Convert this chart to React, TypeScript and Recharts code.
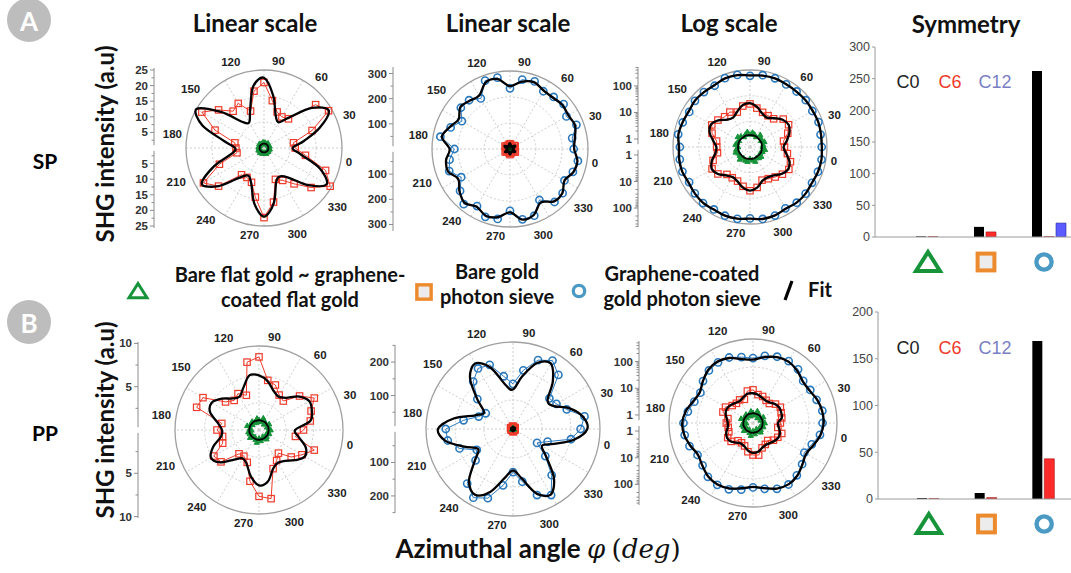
import React from 'react';
import {
  RadarChart,
  Radar,
  PolarGrid,
  PolarAngleAxis,
  PolarRadiusAxis,
  ComposedChart,
  Line,
  YAxis,
  XAxis,
  BarChart,
  Bar
} from 'recharts';

// azimuthal angles of the measured points (deg)
const ANGLES = [0, 10, 20, 30, 40, 50, 60, 70, 80, 90, 100, 110, 120, 130, 140, 150, 160, 170,
  180, 190, 200, 210, 220, 230, 240, 250, 260, 270, 280, 290, 300, 310, 320, 330, 340, 350];
const SPOKES = [0, 30, 60, 90, 120, 150, 180, 210, 240, 270, 300, 330];

// SP polarisation
const SP_TRI = [1.6, 1.9, 1.5, 1.7, 2.0, 1.4, 1.6, 1.8, 1.5, 1.9, 1.6, 1.4, 1.7, 2.0, 1.5, 1.6, 1.8, 1.4,
  1.7, 1.9, 1.5, 1.6, 2.0, 1.5, 1.7, 1.8, 1.4, 1.6, 1.9, 1.5, 1.7, 1.8, 1.4, 1.6, 1.9, 1.5];
const SP_SQ = [9.6, 16.4, 23.9, 21.6, 12.2, 11.5, 12.3, 15.4, 21.0, 18.5, 12.6, 16.5, 15.4, 19.0, 23.0, 16.7, 9.5, 9.0,
  8.8, 15.2, 22.4, 19.0, 11.2, 10.9, 11.7, 16.0, 22.3, 17.6, 10.7, 12.0, 15.0, 19.7, 24.5, 21.0, 13.5, 10.0];
const SP_CIRC = [251, 281, 259, 278, 270, 265, 286, 280, 241, 288, 289, 232, 253, 255, 221, 251, 281, 221,
  244, 257, 224, 259, 286, 262, 287, 282, 246, 284, 282, 234, 275, 273, 250, 266, 274, 253];
const SP_FIT_TRI = [1.42, 1.43, 1.41, 1.40, 1.42, 1.44, 1.43, 1.41, 1.40, 1.42, 1.43, 1.41, 1.40, 1.42, 1.44, 1.43, 1.41, 1.40,
  1.42, 1.43, 1.41, 1.40, 1.42, 1.44, 1.43, 1.41, 1.40, 1.42, 1.43, 1.41, 1.40, 1.42, 1.44, 1.43, 1.41, 1.40];
const SP_FIT_SQ = [13, 19, 24, 20, 13, 9.5, 11, 17, 22.5, 20, 13, 9.5, 11, 18, 25, 21, 13, 9.3,
  10.5, 17, 23, 19, 12.5, 10.2, 12, 18, 22, 18, 11.5, 10.5, 12.5, 18.5, 23.2, 19, 12, 9.2];
const SP_FIT_CIRC = [262, 275, 268, 272, 266, 268, 282, 272, 250, 282, 282, 245, 250, 258, 236, 255, 275, 240,
  258, 262, 238, 262, 280, 265, 282, 275, 252, 285, 278, 245, 272, 272, 250, 268, 272, 255];

// PP polarisation
const PP_TRI = [1.2, 1.0, 1.4, 1.1, 0.9, 1.3, 1.5, 1.0, 1.2, 1.4, 0.95, 1.1, 1.3, 1.0, 1.2, 1.5, 1.1, 0.9,
  1.3, 1.2, 1.0, 1.4, 1.1, 0.95, 1.2, 1.5, 1.0, 1.3, 1.1, 0.9, 1.4, 1.2, 1.0, 1.3, 1.1, 1.4];
const PP_SQ = [6.2, 6.6, 7.6, 6.3, 4.5, 4.8, 5.7, 6.0, 8.7, 8.2, 4.4, 5.0, 4.6, 5.2, 7.7, 7.9, 4.5, 5.0,
  4.4, 4.6, 6.2, 5.9, 3.7, 3.6, 4.1, 6.2, 7.9, 8.3, 4.9, 4.2, 3.6, 5.0, 5.9, 7.0, 4.4, 5.3];
const PP_CIRC = [217, 171, 150, 142, 211, 236, 219, 178, 135, 160, 204, 209, 185, 139, 94, 109, 150, 201,
  198, 170, 125, 146, 213, 237, 220, 171, 129, 160, 210, 228, 180, 126, 83, 110, 176, 202];
const PP_FIT_TRI = [1.15, 1.16, 1.14, 1.15, 1.17, 1.16, 1.14, 1.15, 1.16, 1.14, 1.15, 1.17, 1.16, 1.14, 1.15, 1.16, 1.14, 1.15,
  1.17, 1.16, 1.14, 1.15, 1.16, 1.14, 1.15, 1.17, 1.16, 1.14, 1.15, 1.16, 1.14, 1.15, 1.17, 1.16, 1.14, 1.15];
const PP_FIT_SQ = [6.2, 6.7, 6.9, 6.2, 5.0, 4.6, 5.0, 5.9, 6.5, 6.6, 5.4, 4.6, 4.9, 5.8, 6.5, 6.2, 5.0, 4.4,
  4.6, 5.8, 6.6, 6.0, 4.6, 3.9, 4.3, 5.6, 6.6, 6.2, 4.9, 4.5, 4.8, 5.6, 6.3, 5.9, 4.8, 4.3];
const PP_FIT_CIRC = [212, 180, 138, 135, 185, 226, 210, 160, 118, 135, 195, 226, 200, 140, 100, 120, 180, 224,
  205, 155, 120, 150, 205, 227, 200, 150, 124, 150, 205, 226, 190, 130, 100, 130, 185, 222];

// symmetry coefficients (C0, C6, C12) for triangle / square / circle samples
const SYM_KEYS = ['tri', 'sq', 'circ'];
const SP_C0 = [1, 16, 262];
const SP_C6 = [0.3, 8, 0.4];
const SP_C12 = [0, 0, 22];
const PP_C0 = [1, 6.4, 169];
const PP_C6 = [0.3, 1.5, 43];
const PP_C12 = [0, 0, 0];

const GREEN = '#17933a';
const ORANGE = '#ec8a2e';
const SKY = '#4a9ac4';
const RED = '#ee3b2c';
const BLUE = '#2b79bd';
const AX = '#8c8c8c';
const LAB = 'Liberation Sans, Arial, sans-serif';
const TXT = 'Lato, sans-serif';

const rows = (tri: number[], sq: number[], circ: number[], ftri: number[], fsq: number[], fcirc: number[]) =>
  ANGLES.map((a, i) => ({ angle: a, tri: tri[i], sq: sq[i], circ: circ[i], ftri: ftri[i], fsq: fsq[i], fcirc: fcirc[i] }));

const SP_ROWS = rows(SP_TRI, SP_SQ, SP_CIRC, SP_FIT_TRI, SP_FIT_SQ, SP_FIT_CIRC);
const PP_ROWS = rows(PP_TRI, PP_SQ, PP_CIRC, PP_FIT_TRI, PP_FIT_SQ, PP_FIT_CIRC);

// closed smooth curve through the radar points (for the fits)
const SmoothShape = (p: any) => {
  const pts = (p.points || []).filter((q: any) => Number.isFinite(q.x) && Number.isFinite(q.y));
  const n = pts.length;
  if (n < 3) return <g />;
  let d = `M${pts[0].x},${pts[0].y}`;
  for (let i = 0; i < n; i++) {
    const p0 = pts[(i - 1 + n) % n];
    const p1 = pts[i];
    const p2 = pts[(i + 1) % n];
    const p3 = pts[(i + 2) % n];
    const c1x = p1.x + (p2.x - p0.x) / 6;
    const c1y = p1.y + (p2.y - p0.y) / 6;
    const c2x = p2.x - (p3.x - p1.x) / 6;
    const c2y = p2.y - (p3.y - p1.y) / 6;
    d += ` C${c1x},${c1y} ${c2x},${c2y} ${p2.x},${p2.y}`;
  }
  return <path d={d + 'Z'} fill="none" stroke={p.stroke} strokeWidth={p.strokeWidth} strokeLinejoin="round" />;
};

const squareDot = (p: any) => (
  <rect key={`s${p.index}`} x={p.cx - 3.2} y={p.cy - 3.2} width={6.4} height={6.4} fill="none" stroke={RED} strokeWidth={1.2} />
);
const circleDot = (p: any) => (
  <circle key={`c${p.index}`} cx={p.cx} cy={p.cy} r={3.6} fill="none" stroke={BLUE} strokeWidth={1.6} />
);
const triDot = (p: any) => (
  <polygon key={`t${p.index}`} points={`${p.cx},${p.cy - 2.8} ${p.cx + 2.6},${p.cy + 1.9} ${p.cx - 2.6},${p.cy + 1.9}`}
    fill={GREEN} stroke={GREEN} strokeWidth={1} />
);

const angleTick = (p: any) => {
  const v = Number(p.payload?.value);
  if (v % 30 !== 0) return <g />;
  const a = (v * Math.PI) / 180;
  const label = String(v);
  const w = label.length * 6.6;
  const h = 11;
  const off = (Math.abs(Math.cos(a)) * w) / 2 + (Math.abs(Math.sin(a)) * h) / 2;
  return (
    <text x={p.x + off * Math.cos(a)} y={p.y - off * Math.sin(a)} textAnchor="middle" dominantBaseline="central"
      fontSize={11.5} fontWeight="bold" fill="#222" fontFamily={LAB}>
      {label}
    </text>
  );
};

const MARK_DOT: any = { circ: circleDot, sq: squareDot, tri: triDot };
const MARK_COLOR: any = { circ: BLUE, sq: RED, tri: GREEN };

function PolarPlot({ cx, cy, r, domain, log, grid, data, marks }: any) {
  const pad = 36;
  const size = 2 * (r + pad);
  const common = {
    width: size,
    height: size,
    data,
    outerRadius: r,
    startAngle: 0,
    endAngle: 360,
    margin: { top: 0, right: 0, bottom: 0, left: 0 }
  };
  const radius = (
    <PolarRadiusAxis scale={log ? 'log' : 'linear'} domain={domain} allowDataOverflow ticks={grid}
      tick={false} axisLine={false} tickLine={false} />
  );
  return (
    <div style={{ position: 'absolute', left: cx - size / 2, top: cy - size / 2, width: size, height: size }}>
      <RadarChart {...common}>
        <PolarGrid gridType="circle" polarAngles={SPOKES} stroke="#cfcfcf" strokeDasharray="2 2" />
        <PolarAngleAxis dataKey="angle" axisLineType="circle" axisLine={{ stroke: '#a0a0a0', strokeWidth: 1.3 }}
          tickLine={false} tickSize={5} tick={angleTick} />
        {radius}
        {marks.map((k: string) => (
          <Radar key={k} dataKey={k} stroke={MARK_COLOR[k]} strokeWidth={1} fill="none" fillOpacity={0}
            dot={MARK_DOT[k]} isAnimationActive={false} />
        ))}
      </RadarChart>
      {/* fits drawn in an overlay with identical geometry so they sit above the markers */}
      <div style={{ position: 'absolute', left: 0, top: 0 }}>
        <RadarChart {...common}>
          <PolarAngleAxis dataKey="angle" axisLine={false} tickLine={false} tick={false} />
          {radius}
          {marks.map((k: string) => (
            <Radar key={k} dataKey={'f' + k} stroke="#000" strokeWidth={k === 'tri' ? 1.8 : 2.3} fill="none"
              fillOpacity={0} dot={false} shape={SmoothShape} isAnimationActive={false} />
          ))}
        </RadarChart>
      </div>
    </div>
  );
}

// vertical mirrored intensity axis next to each polar plot
function MirrorAxis({ x, cy, half, r, lo, hi, log, majors, minors }: any) {
  const t = (v: number) => (log ? Math.log10(v / lo) : v);
  const tMax = log ? Math.log10(hi / lo) : hi;
  const tExt = (tMax * half) / r;
  const marks = [
    ...majors.map((v: number) => ({ v, major: true })),
    ...minors.map((v: number) => ({ v, major: false }))
  ].filter((m: any) => t(m.v) <= tExt);
  const list = marks.flatMap((m: any) => [{ ...m, t: t(m.v) }, { ...m, t: -t(m.v) }]);
  const Tick = (p: any) => {
    const m = list.find((q: any) => Math.abs(q.t - p.payload.value) < 1e-6);
    if (!m) return <g />;
    return (
      <g>
        <line x1={p.x} x2={p.x - (m.major ? 4 : 2.5)} y1={p.y} y2={p.y} stroke={AX} />
        {m.major && (
          <text x={p.x - 6} y={p.y} textAnchor="end" dominantBaseline="central" fontSize={11.5} fontWeight="bold"
            fill="#333" fontFamily={LAB}>{m.v}</text>
        )}
      </g>
    );
  };
  const m = 10;
  return (
    <div style={{ position: 'absolute', left: x - 40, top: cy - half - m }}>
      <ComposedChart width={42} height={2 * half + 2 * m} data={[{ v: 0 }]} margin={{ top: m, right: 0, bottom: m, left: 0 }}>
        <YAxis type="number" width={40} domain={[-tExt, tExt]} ticks={list.map((q: any) => q.t)} interval={0}
          allowDataOverflow tickSize={0} tickMargin={0} axisLine={{ stroke: AX }} tickLine={false} tick={Tick} />
        <Line dataKey="v" stroke="none" dot={false} isAnimationActive={false} />
      </ComposedChart>
    </div>
  );
}

function Icon({ kind, s }: { kind: string; s: number }) {
  if (kind === 'tri') {
    return <polygon points={`0,${-s * 0.5} ${s * 0.6},${s * 0.45} ${-s * 0.6},${s * 0.45}`} fill="#fff" stroke={GREEN}
      strokeWidth={s * 0.2} strokeLinejoin="miter" />;
  }
  if (kind === 'sq') {
    return <rect x={-s * 0.42} y={-s * 0.42} width={s * 0.84} height={s * 0.84} fill="#ececec" stroke={ORANGE} strokeWidth={s * 0.2} />;
  }
  return <circle r={s * 0.38} fill="#fff" stroke={SKY} strokeWidth={s * 0.22} />;
}

const IconTick = (p: any) => (
  <g transform={`translate(${p.x - 5},${p.y + 25})`}>
    <Icon kind={p.payload.value} s={20} />
  </g>
);

function SymmetryChart({ left, top, plotH, width, padLeft, yMax, ticks, c0, c6, c12 }: any) {
  const data = SYM_KEYS.map((k, i) => ({ k, c0: c0[i], c6: c6[i], c12: c12[i] }));
  return (
    <div style={{ position: 'absolute', left, top }}>
      <BarChart width={width} height={plotH + 60} data={data} margin={{ top: 10, right: 0, bottom: 10, left: 0 }}
        barSize={10} barGap={2}>
        <XAxis dataKey="k" height={40} axisLine={{ stroke: '#9a9a9a' }} tickLine={false} tickSize={0} tickMargin={0}
          tick={IconTick} padding={{ left: padLeft, right: 0 }} interval={0} />
        <YAxis width={35} domain={[0, yMax]} ticks={ticks} allowDataOverflow interval={0}
          axisLine={{ stroke: '#9a9a9a' }} tickLine={{ stroke: '#9a9a9a' }} tickSize={3}
          tick={{ fontSize: 12.5, fill: '#444', fontFamily: LAB }} />
        <Bar dataKey="c0" fill="#000" isAnimationActive={false} />
        <Bar dataKey="c6" fill="#ff2b2b" stroke="#a01010" strokeWidth={0.6} isAnimationActive={false} />
        <Bar dataKey="c12" fill="#5b5bff" stroke="#2a2aa0" strokeWidth={0.6} isAnimationActive={false} />
      </BarChart>
    </div>
  );
}

const Label = ({ x, y, children, style }: any) => (
  <div style={{ position: 'absolute', left: x, top: y, transform: 'translate(-50%, -50%)', whiteSpace: 'nowrap',
    fontFamily: TXT, ...style }}>
    {children}
  </div>
);

const LOG_MINORS = [2, 3, 4, 5, 6, 7, 8, 9, 20, 30, 40, 50, 60, 70, 80, 90, 200, 300, 400, 500, 600];

export default function App() {
  const title = { fontSize: 24, fontWeight: 700, color: '#111' };
  const legend = { fontSize: 20, fontWeight: 700, color: '#111', textAlign: 'center' as const, lineHeight: '25px' };
  const cLab = { fontSize: 18, fontFamily: LAB };
  const shg = { fontSize: 24, fontWeight: 700, color: '#111', transform: 'translate(-50%, -50%) rotate(-90deg)' };
  return (
    <div style={{ position: 'absolute', left: 0, top: 0, width: 1071, height: 573, overflow: 'hidden', background: '#fff' }}>
      {/* row A : SP */}
      <MirrorAxis x={154} cy={148} half={80} r={78} lo={0} hi={25} majors={[5, 10, 15, 20, 25]} minors={[2.5, 7.5, 12.5, 17.5, 22.5]} />
      <PolarPlot cx={264} cy={148} r={78} domain={[0, 25]} grid={[8.33, 16.67]} data={SP_ROWS} marks={['sq', 'tri']} />
      <MirrorAxis x={393} cy={149} half={82} r={78} lo={0} hi={310} majors={[100, 200, 300]} minors={[50, 150, 250]} />
      <PolarPlot cx={510} cy={149} r={78} domain={[0, 310]} grid={[103, 207]} data={SP_ROWS} marks={['circ', 'sq', 'tri']} />
      <MirrorAxis x={638} cy={147} half={80} r={77} lo={0.5} hi={400} log majors={[1, 10, 100]} minors={LOG_MINORS} />
      <PolarPlot cx={750} cy={147} r={77} domain={[0.5, 400]} log grid={[4.6, 43]} data={SP_ROWS} marks={['circ', 'sq', 'tri']} />

      {/* row B : PP */}
      <MirrorAxis x={138} cy={430} half={88} r={84} lo={0} hi={9.7} majors={[5, 10]} minors={[2.5, 7.5]} />
      <PolarPlot cx={259} cy={430} r={84} domain={[0, 9.7]} grid={[3.23, 6.47]} data={PP_ROWS} marks={['sq', 'tri']} />
      <MirrorAxis x={395} cy={429} half={84} r={87} lo={0} hi={260} majors={[100, 200]} minors={[50, 150, 250]} />
      <PolarPlot cx={513} cy={429} r={87} domain={[0, 260]} grid={[86.7, 173]} data={PP_ROWS} marks={['circ', 'sq', 'tri']} />
      <MirrorAxis x={639} cy={423} half={82} r={84} lo={0.5} hi={700} log majors={[1, 10, 100]} minors={LOG_MINORS} />
      <PolarPlot cx={753} cy={423} r={84} domain={[0.5, 700]} log grid={[5.6, 62]} data={PP_ROWS} marks={['circ', 'sq', 'tri']} />

      {/* symmetry bar charts */}
      <SymmetryChart left={840} top={37} plotH={190} width={238} padLeft={29} yMax={300}
        ticks={[0, 50, 100, 150, 200, 250, 300]} c0={SP_C0} c6={SP_C6} c12={SP_C12} />
      <SymmetryChart left={843} top={302} plotH={187} width={235} padLeft={27} yMax={200}
        ticks={[0, 50, 100, 150, 200]} c0={PP_C0} c6={PP_C6} c12={PP_C12} />

      {/* titles */}
      <Label x={255} y={22} style={title}>Linear scale</Label>
      <Label x={508} y={22} style={title}>Linear scale</Label>
      <Label x={729} y={22} style={title}>Log scale</Label>
      <Label x={966} y={23} style={title}>Symmetry</Label>
      <Label x={45} y={160} style={{ fontSize: 21, fontWeight: 700 }}>SP</Label>
      <Label x={45} y={432} style={{ fontSize: 21, fontWeight: 700 }}>PP</Label>
      <Label x={104} y={144} style={shg}>SHG intensity (a.u)</Label>
      <Label x={104} y={420} style={shg}>SHG intensity (a.u)</Label>

      {/* legend */}
      <Label x={290} y={287} style={legend}>Bare flat gold ~ graphene-<br />coated flat gold</Label>
      <Label x={497} y={284} style={legend}>Bare gold<br />photon sieve</Label>
      <Label x={682} y={286} style={legend}>Graphene-coated<br />gold photon sieve</Label>
      <Label x={820} y={289} style={legend}>Fit</Label>

      {/* C0 / C6 / C12 keys */}
      <Label x={908} y={82} style={{ ...cLab, color: '#222' }}>C0</Label>
      <Label x={950} y={82} style={{ ...cLab, color: '#ee3a2a' }}>C6</Label>
      <Label x={995} y={82} style={{ ...cLab, color: '#7a7fc4' }}>C12</Label>
      <Label x={908} y={348} style={{ ...cLab, color: '#222' }}>C0</Label>
      <Label x={950} y={348} style={{ ...cLab, color: '#ee3a2a' }}>C6</Label>
      <Label x={995} y={348} style={{ ...cLab, color: '#7a7fc4' }}>C12</Label>

      {/* x label */}
      <Label x={538} y={548} style={{ fontSize: 26, fontWeight: 700, color: '#111' }}>
        Azimuthal angle{' '}
        <span style={{ fontFamily: 'DejaVu Serif, serif', fontStyle: 'italic', fontWeight: 400 }}>φ</span>{' '}
        <span style={{ fontFamily: 'DejaVu Serif, serif', fontWeight: 400 }}>(</span>
        <span style={{ fontFamily: 'DejaVu Serif, serif', fontStyle: 'italic', fontWeight: 400 }}>deg</span>
        <span style={{ fontFamily: 'DejaVu Serif, serif', fontWeight: 400 }}>)</span>
      </Label>

      {/* badges and legend symbols */}
      <svg width={1071} height={573} style={{ position: 'absolute', left: 0, top: 0, pointerEvents: 'none' }}>
        <circle cx={29} cy={20} r={22} fill="#bdbdbd" />
        <text x={29} y={21} textAnchor="middle" dominantBaseline="central" fill="#fff" fontSize={26} fontWeight="bold" fontFamily={TXT}>A</text>
        <circle cx={29} cy={322} r={22} fill="#bdbdbd" />
        <text x={29} y={323} textAnchor="middle" dominantBaseline="central" fill="#fff" fontSize={26} fontWeight="bold" fontFamily={TXT}>B</text>
        <g transform="translate(138,291)"><Icon kind="tri" s={15} /></g>
        <g transform="translate(424,292)"><Icon kind="sq" s={17} /></g>
        <g transform="translate(579,291)"><Icon kind="circ" s={15} /></g>
        <line x1={785} y1={300} x2={792} y2={281} stroke="#000" strokeWidth={3.2} />
      </svg>
    </div>
  );
}
